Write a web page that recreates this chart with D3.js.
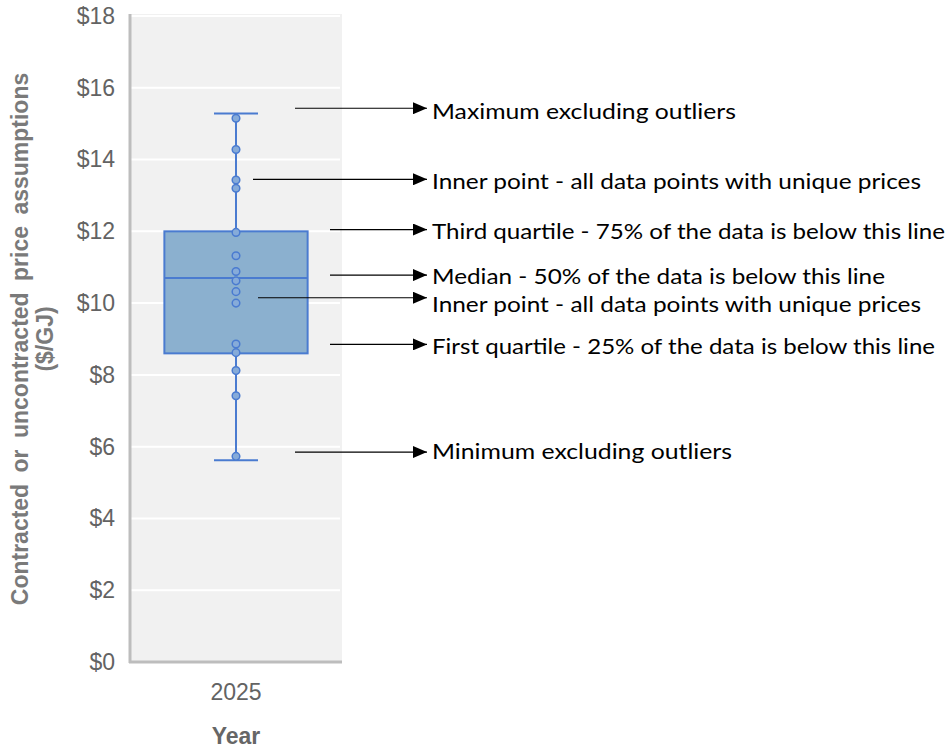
<!DOCTYPE html>
<html>
<head>
<meta charset="utf-8">
<script src="https://cdn.jsdelivr.net/npm/d3@7"></script>
<style>
  html, body { margin: 0; padding: 0; background: #fff; }
  svg { display: block; }
</style>
</head>
<body>
<svg id="chart" width="949" height="749"></svg>
<script>
// Price distribution for 2025 ($/GJ)
const categories = ["2025"];
const boxStats = { low: 5.62, q1: 8.6, median: 10.7, q3: 12.0, high: 15.28 };
const pricePoints = [15.15, 14.28, 13.43, 13.2, 11.97, 11.32, 10.88, 10.62, 10.32, 10.0, 8.86, 8.62, 8.12, 7.42, 5.73];
const yTicks = [0, 2, 4, 6, 8, 10, 12, 14, 16, 18];

// Callout labels: the value each arrow points at, where its line starts, and its text
const calloutValues = [15.43, 13.45, 12.05, 10.78, 10.15, 8.85, 5.85];
const calloutStarts = [295, 253, 330, 330, 258, 330, 295];
const calloutTexts = [
  "Maximum excluding outliers",
  "Inner point - all data points with unique prices",
  "Third quartile - 75% of the data is below this line",
  "Median - 50% of the data is below this line",
  "Inner point - all data points with unique prices",
  "First quartile - 25% of the data is below this line",
  "Minimum excluding outliers"
];
const calloutTextWidths = [304, 489, 513, 453, 489, 503, 300];
const calloutTextDy = [2, 1, 1, 0, 6, 1, -2];

const svg = d3.select("#chart");
const plot = { left: 130, right: 342, top: 16, bottom: 662 };

const y = d3.scaleLinear().domain([0, 18]).range([plot.bottom, plot.top]);
const x = d3.scaleBand().domain(categories).range([plot.left, plot.right]).paddingInner(0).paddingOuter(0.24);

// Plot background
svg.append("rect")
  .attr("x", plot.left).attr("y", plot.top - 2)
  .attr("width", plot.right - plot.left).attr("height", plot.bottom - plot.top + 2)
  .attr("fill", "#f1f1f1");

// Gridlines
svg.append("g").selectAll("line").data(yTicks.filter(d => d > 0)).join("line")
  .attr("x1", plot.left).attr("x2", plot.right - 2)
  .attr("y1", d => y(d)).attr("y2", d => y(d))
  .attr("stroke", "#ffffff").attr("stroke-width", 2);

// Y axis
const yAxis = svg.append("g")
  .attr("transform", `translate(${plot.left},0)`)
  .call(d3.axisLeft(y).tickValues(yTicks).tickFormat(d => "$" + d).tickSize(0).tickPadding(15));
yAxis.select(".domain").remove();
yAxis.selectAll("text")
  .attr("font-family", "'Liberation Sans', Arial, sans-serif")
  .attr("font-size", 23)
  .attr("fill", "#636363");

// X axis
const xAxis = svg.append("g")
  .attr("transform", `translate(0,${plot.bottom})`)
  .call(d3.axisBottom(x).tickSize(0).tickPadding(22));
xAxis.select(".domain").remove();
xAxis.selectAll("text")
  .attr("font-family", "'Liberation Sans', Arial, sans-serif")
  .attr("font-size", 23)
  .attr("fill", "#636363");

// Axis lines
svg.append("line")
  .attr("x1", plot.left).attr("x2", plot.left)
  .attr("y1", plot.top - 2).attr("y2", plot.bottom + 1)
  .attr("stroke", "#bdbdbd").attr("stroke-width", 3);
svg.append("line")
  .attr("x1", plot.left - 1).attr("x2", plot.right)
  .attr("y1", plot.bottom).attr("y2", plot.bottom)
  .attr("stroke", "#bdbdbd").attr("stroke-width", 3);

// Axis titles
svg.append("text")
  .attr("x", x("2025") + x.bandwidth() / 2).attr("y", 744)
  .attr("text-anchor", "middle")
  .attr("font-family", "'Liberation Sans', Arial, sans-serif")
  .attr("font-size", 23).attr("font-weight", "bold")
  .attr("fill", "#666")
  .text("Year");

const yTitle = svg.append("text")
  .attr("transform", `translate(28,${(plot.top + plot.bottom) / 2}) rotate(-90)`)
  .attr("text-anchor", "middle")
  .attr("font-family", "'Liberation Sans', Arial, sans-serif")
  .attr("font-size", 23).attr("font-weight", "bold")
  .attr("fill", "#7a7a7a")
  .attr("word-spacing", 5);
yTitle.append("tspan").attr("x", 0).attr("dy", 0).text("Contracted or uncontracted price assumptions");
yTitle.append("tspan").attr("x", 0).attr("dy", 25).text("($/GJ)");

// Box plot
const blue = "#4a7bd0";
const cx = x("2025") + x.bandwidth() / 2;
const boxW = x.bandwidth();
const capW = 44;
const g = svg.append("g");

g.append("line")
  .attr("x1", cx).attr("x2", cx)
  .attr("y1", y(boxStats.high)).attr("y2", y(boxStats.low))
  .attr("stroke", blue).attr("stroke-width", 2);

g.append("rect")
  .attr("x", cx - boxW / 2).attr("width", boxW)
  .attr("y", y(boxStats.q3)).attr("height", y(boxStats.q1) - y(boxStats.q3))
  .attr("fill", "#8bb0cf").attr("stroke", blue).attr("stroke-width", 2);

g.append("line")
  .attr("x1", cx - boxW / 2).attr("x2", cx + boxW / 2)
  .attr("y1", y(boxStats.median)).attr("y2", y(boxStats.median))
  .attr("stroke", blue).attr("stroke-width", 2);

g.selectAll("line.cap").data([boxStats.high, boxStats.low]).join("line")
  .attr("class", "cap")
  .attr("x1", cx - capW / 2).attr("x2", cx + capW / 2)
  .attr("y1", d => y(d)).attr("y2", d => y(d))
  .attr("stroke", blue).attr("stroke-width", 2);

g.selectAll("circle").data(pricePoints).join("circle")
  .attr("cx", cx).attr("cy", d => y(d))
  .attr("r", 3.8)
  .attr("fill", "#86abd9").attr("stroke", blue).attr("stroke-width", 1.5);

// Callouts
svg.append("defs").append("marker")
  .attr("id", "arrow")
  .attr("viewBox", "0 0 14 12")
  .attr("refX", 14).attr("refY", 6)
  .attr("markerWidth", 14).attr("markerHeight", 12)
  .attr("markerUnits", "userSpaceOnUse")
  .attr("orient", "auto")
  .append("path").attr("d", "M0,0 L14,6 L0,12 Z").attr("fill", "#000");

const callouts = svg.append("g").selectAll("g").data(calloutTexts).join("g");
callouts.append("line")
  .attr("x1", (d, i) => calloutStarts[i]).attr("x2", 427)
  .attr("y1", (d, i) => y(calloutValues[i])).attr("y2", (d, i) => y(calloutValues[i]))
  .attr("stroke", "#000").attr("stroke-width", 1.2)
  .attr("marker-end", "url(#arrow)");
callouts.append("text")
  .attr("x", 432)
  .attr("y", (d, i) => y(calloutValues[i]) + calloutTextDy[i])
  .attr("dominant-baseline", "central")
  .attr("font-family", "Lato, 'Open Sans', sans-serif")
  .attr("font-size", 22)
  .attr("fill", "#000")
  .attr("textLength", (d, i) => calloutTextWidths[i])
  .attr("lengthAdjust", "spacingAndGlyphs")
  .text(d => d);
</script>
</body>
</html>
